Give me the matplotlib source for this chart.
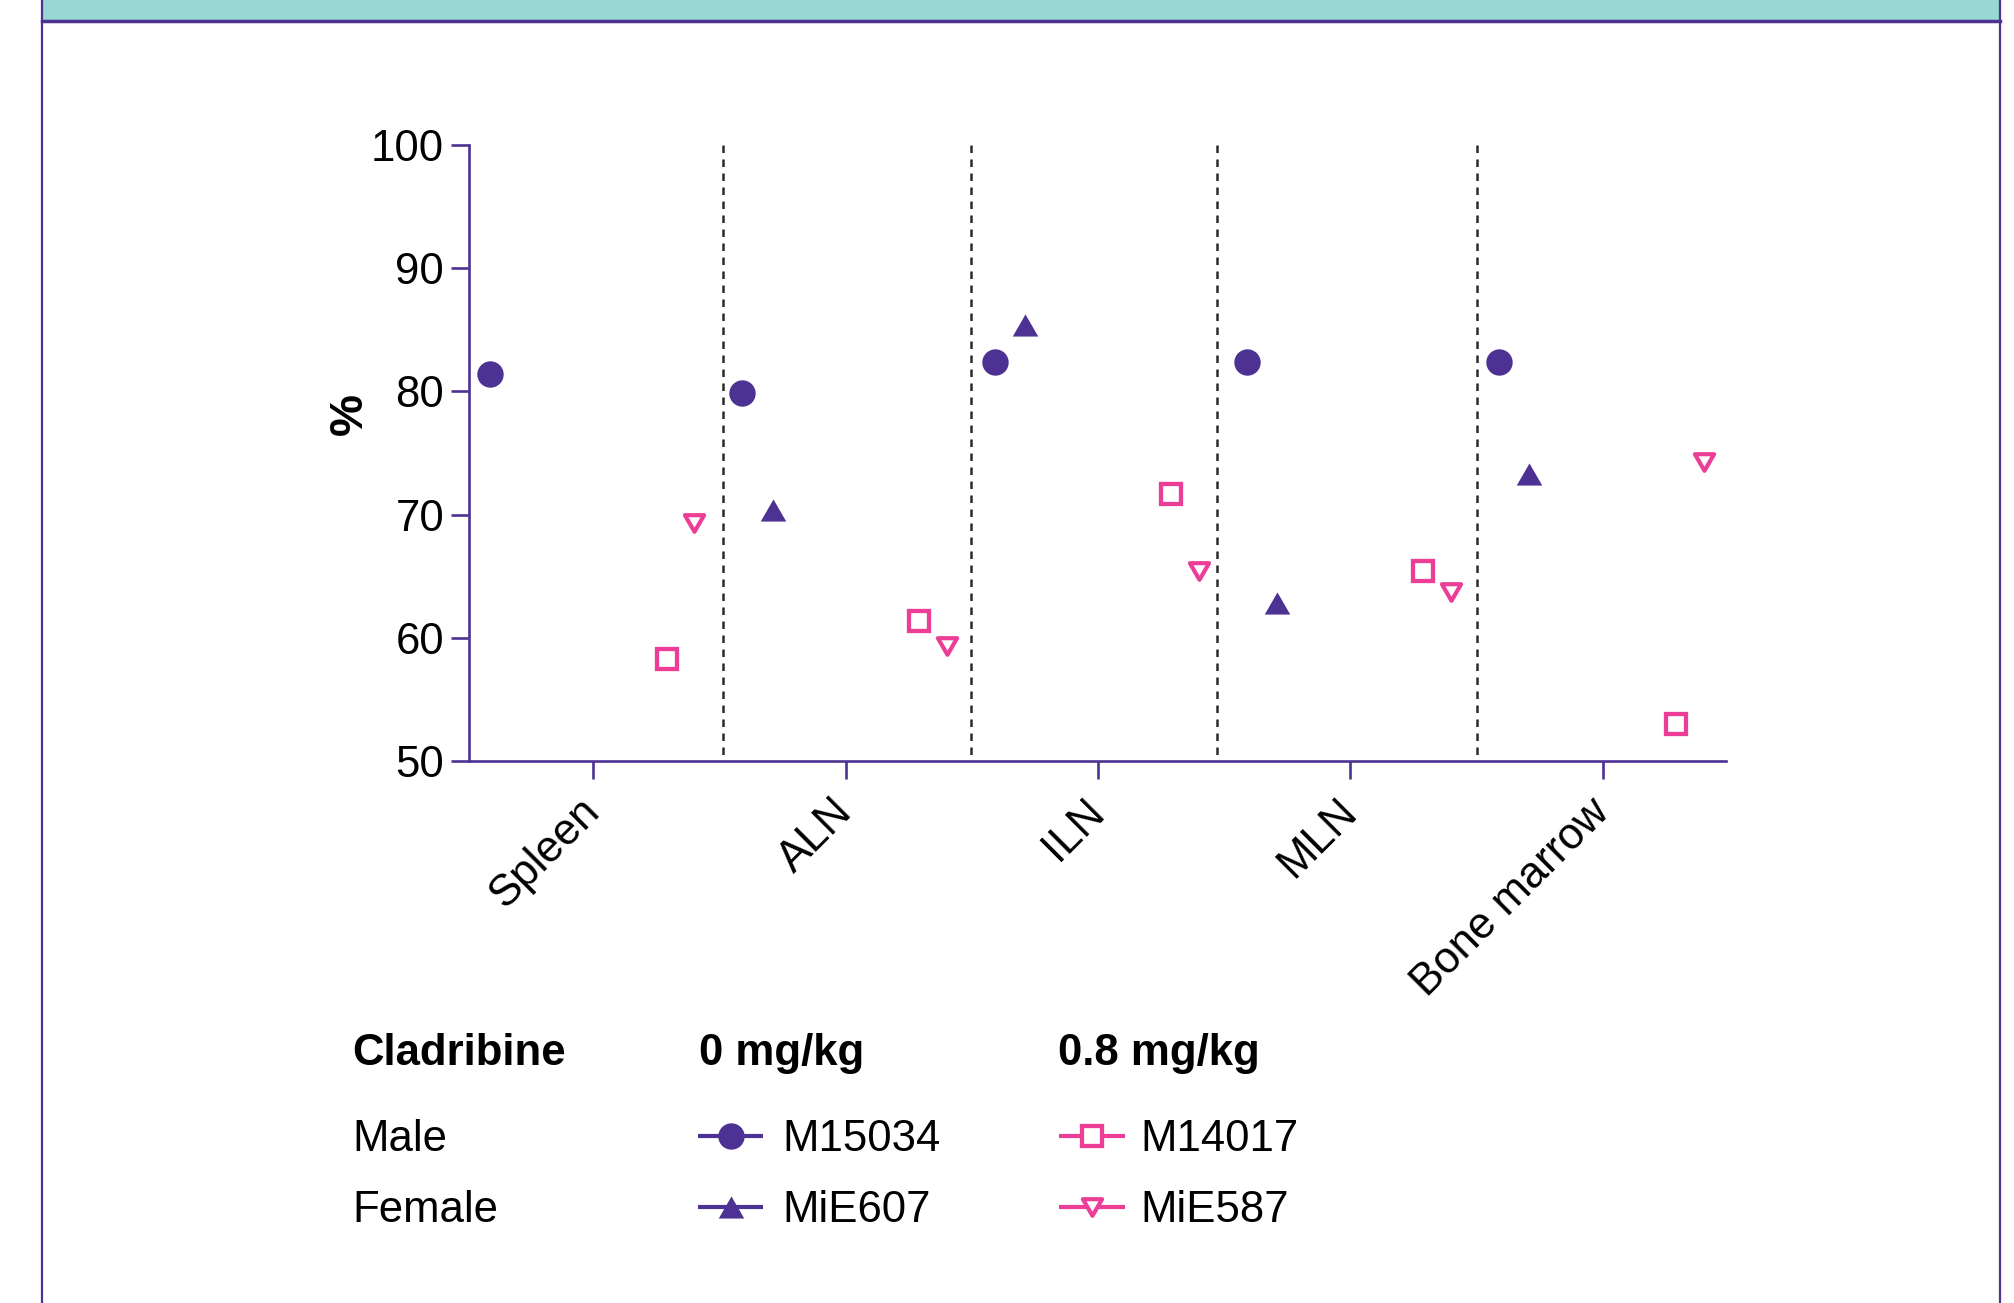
import matplotlib
matplotlib.use("Agg")
import matplotlib.pyplot as plt
import numpy as np
from matplotlib.lines import Line2D
from matplotlib.patches import Rectangle
from matplotlib.path import Path
from matplotlib.markers import MarkerStyle

# ---------------- data ----------------
categories = ["Spleen", "ALN", "ILN", "MLN", "Bone marrow"]
m15034 = [81.4, 79.9, 82.4, 82.4, 82.4]          # 0 mg/kg, male
mie607 = [np.nan, 70.4, 85.4, 62.8, 73.3]        # 0 mg/kg, female
m14017 = [58.3, 61.4, 71.7, 65.4, 53.0]          # 0.8 mg/kg, male
mie587 = [69.3, 59.3, 65.4, 63.7, 74.3]          # 0.8 mg/kg, female
dividers = [0.515, 1.497, 2.472, 3.501]          # dashed separators between tissues
y_ticks = [50, 60, 70, 80, 90, 100]
y_label = "%"
legend_title = "Cladribine"
dose_labels = ["0 mg/kg", "0.8 mg/kg"]
sex_labels = ["Male", "Female"]
series_names = ["M15034", "MiE607", "M14017", "MiE587"]

# ---------------- style ----------------
PURPLE = "#4E3293"
PINK = "#EC3E96"
TEAL = "#97D8D2"
W, H = 2014, 1303

plt.rcParams['font.family'] = ['Liberation Sans', 'DejaVu Sans']

# equilateral triangles (bbox-centred)
up_tri = MarkerStyle(Path([(-1, -0.866), (1, -0.866), (0, 0.866), (-1, -0.866)],
                          [Path.MOVETO, Path.LINETO, Path.LINETO, Path.CLOSEPOLY]),
                     joinstyle="miter")
down_tri = MarkerStyle(Path([(-1, 0.866), (1, 0.866), (0, -0.866), (-1, 0.866)],
                            [Path.MOVETO, Path.LINETO, Path.LINETO, Path.CLOSEPOLY]),
                       joinstyle="miter")

fig = plt.figure(figsize=(W / 100, H / 100), dpi=100)
fig.patch.set_facecolor("white")

# header band and frame
fig.add_artist(Rectangle((42 / W, 1 - 20 / H), (2000 - 42) / W, 20 / H,
                         transform=fig.transFigure, facecolor=TEAL,
                         edgecolor="none", zorder=0))
fig.add_artist(Line2D([42 / W, 2000 / W], [1 - 21 / H] * 2,
                      transform=fig.transFigure, color=PURPLE, lw=2.5))
fig.add_artist(Line2D([42 / W] * 2, [0, 1], transform=fig.transFigure,
                      color=PURPLE, lw=1.6))
fig.add_artist(Line2D([2000 / W] * 2, [0, 1], transform=fig.transFigure,
                      color=PURPLE, lw=1.6))

# ---------------- main axes ----------------
ax = fig.add_axes([469 / W, 1 - 761 / H, (1726 - 469) / W, (761 - 145) / H])
ax.set_xlim(-0.493, 4.489)
ax.set_ylim(50, 100)

x = np.arange(len(categories))
styles = [
    dict(marker="o", ms=19, mfc=PURPLE, mec=PURPLE, mew=0),
    dict(marker=up_tri, ms=18.4, mfc=PURPLE, mec=PURPLE, mew=0),
    dict(marker="s", ms=14.5, mfc="white", mec=PINK, mew=3.1),
    dict(marker=down_tri, ms=13.8, mfc="white", mec=PINK, mew=3.0),
]
offsets = [-0.41, -0.29, 0.29, 0.40]
for vals, off, st in zip([m15034, mie607, m14017, mie587], offsets, styles):
    ax.plot(x + off, vals, linestyle="none", zorder=3, **st)

# dashed separators, drawn top-down so the dash pattern starts at the top
for b in dividers:
    ax.plot([b, b], [y_ticks[-1], y_ticks[0]], color="#2a2a2a", lw=1.8,
            linestyle=(0, (3.0, 2.6)), zorder=1, clip_on=False)

for s in ["top", "right"]:
    ax.spines[s].set_visible(False)
for s in ["left", "bottom"]:
    ax.spines[s].set_color(PURPLE)
    ax.spines[s].set_linewidth(1.9)

ax.set_yticks(y_ticks)
ax.set_xticks(x)
ax.set_xticklabels(categories, rotation=45, ha="right", va="center",
                   rotation_mode="anchor")
ax.tick_params(axis="both", direction="out", length=13, width=1.9,
               color=PURPLE, labelsize=31.5, labelcolor="black")
ax.tick_params(axis="y", pad=5)
ax.tick_params(axis="x", pad=19)

fig.text(350 / W, 1 - 414 / H, y_label, rotation=90, fontsize=34,
         fontweight="bold", ha="center", va="center")

# ---------------- legend table ----------------
lax = fig.add_axes([0, 0, 1, 1])
lax.set_xlim(0, W)
lax.set_ylim(H, 0)
lax.axis("off")
lax.patch.set_alpha(0)

fs = 31.5
head_base = 1065
lax.text(352, head_base, legend_title, fontsize=fs, fontweight="bold", va="baseline")
lax.text(699, head_base, dose_labels[0], fontsize=fs, fontweight="bold", va="baseline")
lax.text(1058, head_base, dose_labels[1], fontsize=fs, fontweight="bold", va="baseline")
rows_base = [1151, 1222]
rows_line = [1136, 1207]
for i, lab in enumerate(sex_labels):
    lax.text(352, rows_base[i], lab, fontsize=fs, va="baseline")

col_x = [(698, 763, 782), (1059, 1125, 1140)]
entries = [(0, 0), (0, 1), (1, 0), (1, 1)]
for (c, r), st, name in zip(entries, styles, series_names):
    x0, x1, xt = col_x[c]
    col = st["mec"]
    lax.plot([x0, x1], [rows_line[r]] * 2, color=col, lw=3,
             solid_capstyle="butt", zorder=2)
    lax.plot([(x0 + x1) / 2], [rows_line[r]], linestyle="none", zorder=3, **st)
    lax.text(xt, rows_base[r], name, fontsize=fs, va="baseline")

fig.savefig("out.png", dpi=100, facecolor="white")
